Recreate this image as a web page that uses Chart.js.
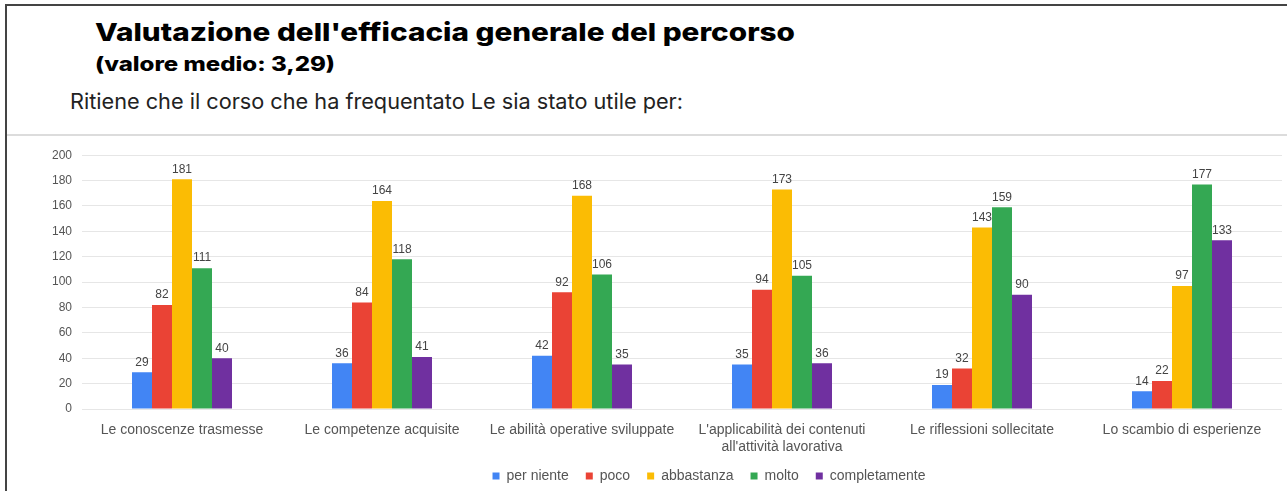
<!DOCTYPE html>
<html lang="it">
<head>
  <meta charset="UTF-8" />
  <title>Valutazione dell'efficacia generale del percorso</title>
  <script src="https://cdn.jsdelivr.net/npm/chart.js"></script>
  <style>
    body {
      margin: 0;
      width: 1287px;
      height: 491px;
      overflow: hidden;
      background: #fff;
      font-family: 'Inter', sans-serif;
      position: relative;
    }
    .frame {
      position: absolute;
      left: 5px;
      top: 4px;
      width: 1282px;
      height: 487px;
      border-top: 2px solid #444;
      border-left: 2px solid #444;
    }
    .title, .subtitle, .question {
      position: absolute;
      white-space: nowrap;
      transform-origin: 0 0;
      line-height: 1;
      color: #000;
    }
    .title { left: 95px; top: 20px; font-size: 25px; font-weight: 800; }
    .subtitle { left: 95px; top: 55px; font-size: 19.5px; font-weight: 800; }
    .question { left: 70px; top: 91px; font-size: 21.5px; font-weight: 400; color: #222; }
    .sep {
      position: absolute;
      left: 7px;
      top: 134px;
      width: 1280px;
      height: 2px;
      background: #dcdcdc;
    }
    .chart-box {
      position: absolute;
      left: 8px;
      top: 138px;
      width: 1279px;
      height: 353px;
    }
  </style>
</head>
<body>
  <div class="frame"></div>
  <div class="title" data-w="700">Valutazione dell'efficacia generale del percorso</div>
  <div class="subtitle" data-w="240">(valore medio: 3,29)</div>
  <div class="question" data-w="613">Ritiene che il corso che ha frequentato Le sia stato utile per:</div>
  <div class="sep"></div>
  <div class="chart-box">
    <canvas id="chart"></canvas>
  </div>
  <script>
    // categorie e serie
    const categories = [
      'Le conoscenze trasmesse',
      'Le competenze acquisite',
      'Le abilità operative sviluppate',
      ['L\'applicabilità dei contenuti', 'all\'attività lavorativa'],
      'Le riflessioni sollecitate',
      'Lo scambio di esperienze'
    ];
    const seriesNames = ['per niente', 'poco', 'abbastanza', 'molto', 'completamente'];
    const perNiente = [29, 36, 42, 35, 19, 14];
    const poco = [82, 84, 92, 94, 32, 22];
    const abbastanza = [181, 164, 168, 173, 143, 97];
    const molto = [111, 118, 106, 105, 159, 177];
    const completamente = [40, 41, 35, 36, 90, 133];
    const yTicks = [0, 20, 40, 60, 80, 100, 120, 140, 160, 180, 200];

    const colors = ['#4285F4', '#EA4335', '#FBBC04', '#34A853', '#7030A0'];
    const values = [perNiente, poco, abbastanza, molto, completamente];

    // adatta la larghezza dei testi del titolo
    document.querySelectorAll('[data-w]').forEach(el => {
      const w = el.getBoundingClientRect().width;
      el.style.transform = 'scaleX(' + (Number(el.dataset.w) / w) + ')';
    });

    // etichette dei valori sopra le barre
    const valueLabels = {
      id: 'valueLabels',
      afterDatasetsDraw(chart) {
        const ctx = chart.ctx;
        ctx.save();
        ctx.font = '12px "Liberation Sans", Arial, sans-serif';
        ctx.fillStyle = '#444';
        ctx.textAlign = 'center';
        ctx.textBaseline = 'bottom';
        chart.data.datasets.forEach((ds, i) => {
          chart.getDatasetMeta(i).data.forEach((bar, j) => {
            ctx.fillText(ds.data[j], bar.x, bar.y - 4);
          });
        });
        ctx.restore();
      }
    };

    // la legenda nell'originale è un po' spostata a destra (e piu in alto)
    const legendShift = {
      id: 'legendShift',
      afterLayout(chart) {
        const lg = chart.legend;
        lg.left += 64;
        lg.right += 64;
        lg.top -= 9;
        lg.bottom -= 9;
      }
    };

    Chart.defaults.font.family = '"Liberation Sans", Arial, sans-serif';
    Chart.defaults.color = '#444';

    new Chart(document.getElementById('chart'), {
      type: 'bar',
      data: {
        labels: categories,
        datasets: seriesNames.map((name, i) => ({
          label: name,
          data: values[i],
          backgroundColor: colors[i],
          borderWidth: 0,
          categoryPercentage: 0.5,
          barPercentage: 1
        }))
      },
      options: {
        responsive: true,
        maintainAspectRatio: false,
        animation: false,
        layout: { padding: { top: 15, right: 5, left: 0, bottom: -11 } },
        plugins: {
          legend: {
            position: 'bottom',
            labels: {
              boxWidth: 7,
              boxHeight: 7,
              padding: 17,
              font: { size: 14 },
              color: '#555'
            }
          },
          tooltip: { enabled: false }
        },
        scales: {
          x: {
            grid: { display: false, drawTicks: false },
            border: { display: false },
            ticks: { font: { size: 14 }, color: '#555', padding: 13, maxRotation: 0 },
            afterFit(scale) { scale.height = 52; }
          },
          y: {
            min: 0,
            max: 200,
            afterBuildTicks(scale) { scale.ticks = yTicks.map(v => ({ value: v })); },
            grid: { color: '#e6e6e6', drawTicks: false },
            border: { display: false },
            ticks: { font: { size: 12 }, color: '#555', padding: 10 },
            afterFit(scale) { scale.width = 74; }
          }
        }
      },
      plugins: [valueLabels, legendShift]
    });
  </script>
</body>
</html>
